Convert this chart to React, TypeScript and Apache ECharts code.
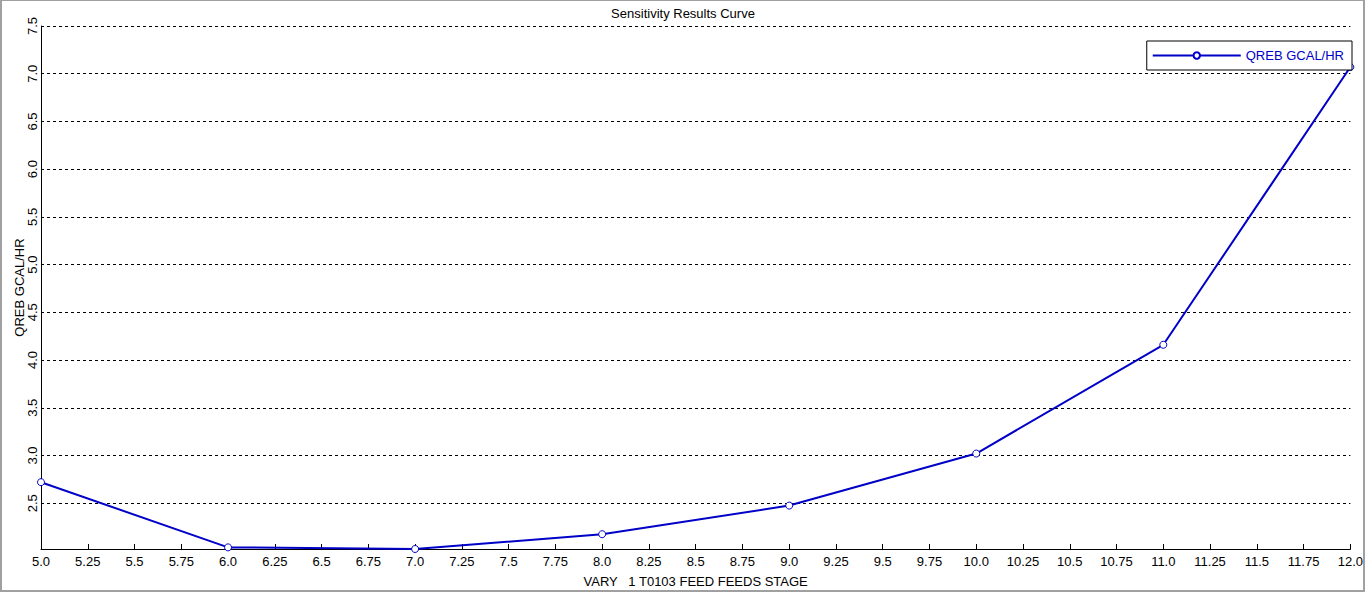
import React, { useEffect, useRef } from "react";
import * as echarts from "echarts";

const stages = [5, 6, 7, 8, 9, 10, 11, 12];
const qreb = [2.72, 2.037, 2.02, 2.175, 2.475, 3.02, 4.16, 7.07];
const seriesName = "QREB GCAL/HR";
const titleText = "Sensitivity Results Curve";
const xName = "VARY   1 T0103 FEED FEEDS STAGE";
const yName = "QREB GCAL/HR";

const FONT = "Arial, 'Liberation Sans', sans-serif";
const BLUE = "#0000c8";

export default function App() {
  const ref = useRef<HTMLDivElement>(null);
  useEffect(() => {
    if (!ref.current) return;
    const chart = echarts.init(ref.current, null, { renderer: "svg" });
    chart.setOption({
      animation: false,
      backgroundColor: "#fff",
      textStyle: { fontFamily: FONT },
      title: {
        text: titleText,
        left: "center",
        top: 2,
        textStyle: { fontSize: 13, fontWeight: "normal", color: "#000", fontFamily: FONT },
      },
      legend: {
        right: 14,
        top: 41,
        orient: "horizontal",
        backgroundColor: "#fff",
        borderColor: "#000",
        borderWidth: 1,
        borderRadius: 0,
        padding: [8, 8, 8, 5],
        itemWidth: 88,
        itemHeight: 8,
        textStyle: { color: BLUE, fontSize: 13, fontFamily: FONT },
        data: [seriesName],
      },
      grid: { left: 41, right: 14, top: 26, bottom: 43, containLabel: false },
      xAxis: {
        type: "value",
        min: 5,
        max: 12,
        interval: 0.25,
        name: xName,
        nameLocation: "middle",
        nameGap: 26,
        nameMoveOverlap: false,
        nameTextStyle: { fontSize: 13, color: "#000", fontFamily: FONT },
        axisLine: { lineStyle: { color: "#000", width: 1 } },
        axisTick: { inside: true, length: 5, lineStyle: { color: "#000" } },
        axisLabel: {
          fontSize: 13,
          color: "#000",
          margin: 6,
          fontFamily: FONT,
          formatter: (v: number) => (Number.isInteger(v) ? v.toFixed(1) : String(v)),
        },
        splitLine: { show: false },
      },
      yAxis: {
        type: "value",
        min: 2.02,
        max: 7.5,
        splitNumber: 11,
        minInterval: 0.5,
        maxInterval: 0.5,
        name: yName,
        nameLocation: "middle",
        nameGap: 15,
        nameMoveOverlap: false,
        nameTextStyle: { fontSize: 13, color: "#000", fontFamily: FONT },
        axisLine: { show: true, lineStyle: { color: "#000", width: 1 } },
        axisTick: { show: false },
        axisLabel: {
          fontSize: 13,
          color: "#000",
          rotate: 90,
          margin: 2,
          fontFamily: FONT,
          formatter: (v: number) =>
            Math.abs(v * 2 - Math.round(v * 2)) < 1e-6 ? v.toFixed(1) : "",
        },
        splitLine: {
          show: true,
          lineStyle: { color: "#000", type: [3, 3], width: 1 },
        },
      },
      graphic: [
        {
          type: "rect",
          silent: true,
          z: 100,
          shape: { x: 1, y: 0, width: 1363, height: 591 },
          style: { fill: "none", stroke: "#a0a0a0", lineWidth: 2 },
        },
      ],
      series: [
        {
          name: seriesName,
          type: "line",
          data: stages.map((s, i) => [s, qreb[i]]),
          symbol: "circle",
          symbolSize: 7,
          showSymbol: true,
          lineStyle: { color: BLUE, width: 2 },
          itemStyle: { color: "#fff", borderColor: BLUE, borderWidth: 1 },
          z: 3,
        },
      ],
    });
    return () => chart.dispose();
  }, []);
  return (
    <div
      ref={ref}
      style={{ position: "absolute", left: 0, top: 0, width: 1366, height: 593 }}
    />
  );
}
